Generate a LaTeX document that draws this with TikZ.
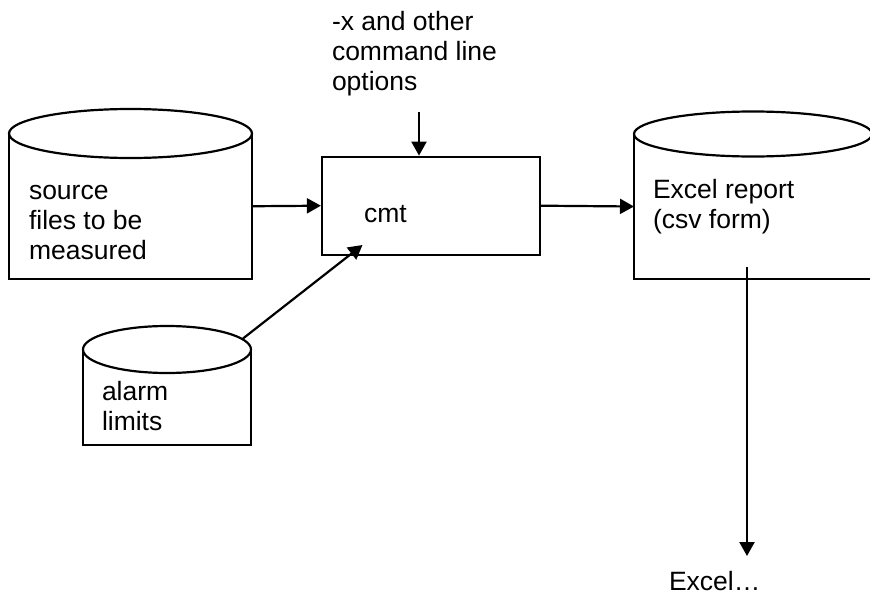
\documentclass[tikz,border=0pt]{standalone}
\usepackage{fontspec}
\setmainfont{Liberation Sans}
\usetikzlibrary{arrows.meta}
\begin{document}
\begin{tikzpicture}[x=1pt,y=-1pt,
  ln/.style={line width=2.2pt, line join=miter},
  arr/.style={ln, -{Triangle[length=14pt,width=15pt]}},
  body/.style={draw=none, inner sep=0pt, outer sep=0pt},
  lbl/.style={inner sep=0pt, outer sep=0pt, align=left, anchor=base west,
    font=\fontsize{26.5}{30}\selectfont}]
\useasboundingbox (0,0) rectangle (870,594);
\clip (0,0) rectangle (870,594);
% source cylinder
\node[body, minimum width=243pt, minimum height=145.5pt] (src) at (130.5,206.25) {};
\draw[ln] (src.north west) -- (src.south west) -- (src.south east) -- (src.north east);
\draw[ln, fill=white] (src.north) ellipse [x radius=121.5pt, y radius=24.5pt];
% excel cylinder
\node[body, minimum width=238pt, minimum height=145pt] (xl) at (753,206.5) {};
\draw[ln] (xl.north west) -- (xl.south west) -- (xl.south east) -- (xl.north east);
\draw[ln, fill=white] (xl.north) ellipse [x radius=119pt, y radius=22.5pt];
% alarm cylinder
\node[body, minimum width=168pt, minimum height=95.5pt] (al) at (167,397.25) {};
\draw[ln] (al.north west) -- (al.south west) -- (al.south east) -- (al.north east);
\draw[ln, fill=white] (al.north) ellipse [x radius=84pt, y radius=23.5pt];
% cmt box
\node[ln, draw, inner sep=0pt, minimum width=218pt, minimum height=98pt] (cmt) at (431,205.7) {};
% texts (base = baseline of last line)
\node[lbl] (srct) at (29,259) {source\\files to be\\measured};
\node[lbl] (xlt) at (653,228) {Excel report\\(csv form)};
\node[lbl] (alt) at (102,430) {alarm\\limits};
\node[lbl] (cmtt) at (364,222) {cmt};
\node[lbl] (optt) at (332,91) {-x and other\\command line\\options};
\node[lbl] (outt) at (669,590) {Excel…};
% connector ends
\coordinate (optend) at (419,112);
\coordinate (alstart) at (243,338.5);
\coordinate (altip) at (362.5,245);
\coordinate (xlstart) at (747,267);
\coordinate (xltip) at (747,556);
% connectors
\draw[arr] (optend) -- (optend |- cmt.north);
\draw[arr] (src.east) -- (cmt.west);
\draw[arr] (cmt.east) -- (xl.west);
\draw[arr] (alstart) -- (altip);
\draw[arr] (xlstart) -- (xltip);
\end{tikzpicture}
\end{document}
